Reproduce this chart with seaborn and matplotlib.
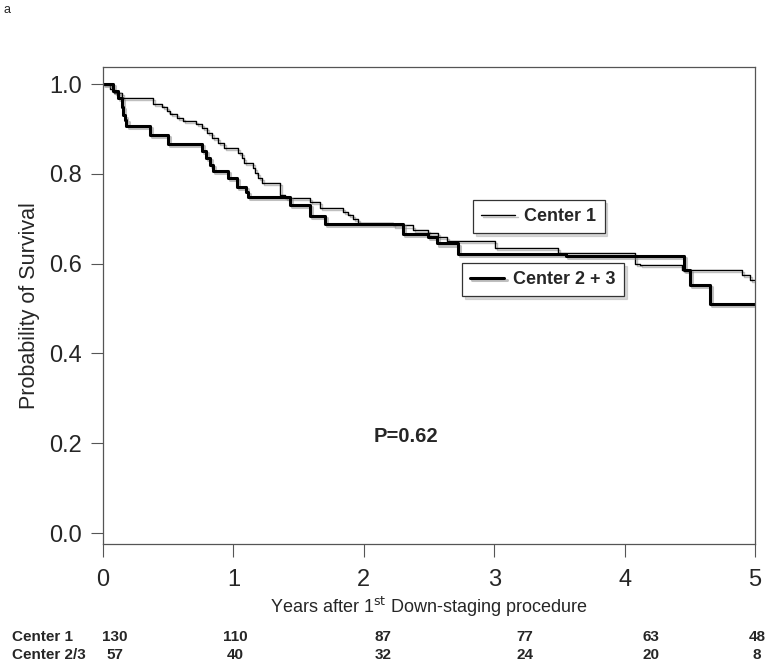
import matplotlib
matplotlib.use("Agg")
import matplotlib.pyplot as plt
import matplotlib.patheffects as pe
import seaborn as sns
import pandas as pd

# Kaplan-Meier steps (years, survival)
c1_years = [0, 0.054, 0.084, 0.143, 0.381, 0.45, 0.49, 0.51, 0.57, 0.61, 0.713, 0.757,
            0.795, 0.833, 0.884, 0.928, 1.038, 1.063, 1.081, 1.148, 1.166, 1.191, 1.217,
            1.357, 1.396, 1.587, 1.664, 1.843, 1.881, 1.92, 1.958, 2.226, 2.38, 2.495,
            2.57, 2.636, 3.006, 3.49, 4.08, 4.12, 4.44, 4.9, 4.96, 5.0]
c1_surv = [1.0, 0.99, 0.98, 0.969, 0.955, 0.948, 0.94, 0.933, 0.924, 0.918, 0.911, 0.902,
           0.891, 0.88, 0.869, 0.857, 0.846, 0.835, 0.824, 0.813, 0.802, 0.79, 0.779,
           0.753, 0.746, 0.738, 0.724, 0.716, 0.708, 0.70, 0.69, 0.685, 0.675, 0.668,
           0.66, 0.651, 0.634, 0.624, 0.60, 0.597, 0.586, 0.575, 0.563, 0.563]

c23_years = [0, 0.079, 0.118, 0.145, 0.155, 0.165, 0.18, 0.36, 0.50, 0.757, 0.79, 0.82,
             0.841, 0.961, 1.025, 1.097, 1.115, 1.434, 1.587, 1.70, 2.303, 2.495, 2.559,
             2.725, 3.55, 4.456, 4.50, 4.655, 5.0]
c23_surv = [1.0, 0.984, 0.969, 0.95, 0.93, 0.92, 0.906, 0.887, 0.867, 0.85, 0.835, 0.82,
            0.807, 0.79, 0.771, 0.76, 0.749, 0.73, 0.706, 0.688, 0.667, 0.66, 0.645,
            0.622, 0.617, 0.586, 0.552, 0.51, 0.51]

# numbers at risk
risk_labels = ["Center 1", "Center 2/3"]
risk_c1 = [130, 110, 87, 77, 63, 48]
risk_c23 = [57, 40, 32, 24, 20, 8]
risk_xpos = [115, 235, 383, 525, 651, 757]  # pixel columns of the table

p_text = "P=0.62"

sns.set_style("ticks")
plt.rcParams['font.family'] = ['Liberation Sans', 'DejaVu Sans']

fig = plt.figure(figsize=(7.68, 6.63), dpi=100)
W, H = 768, 663
ax = fig.add_axes([103 / W, 1 - 544 / H, (755 - 103) / W, (544 - 67) / H])

shadow = [pe.SimpleLineShadow(offset=(1.5, -1.5), shadow_color='0.5', alpha=0.5), pe.Normal()]

df1 = pd.DataFrame({"years": c1_years, "surv": c1_surv})
df2 = pd.DataFrame({"years": c23_years, "surv": c23_surv})
sns.lineplot(data=df1, x="years", y="surv", drawstyle="steps-post", color="black",
             linewidth=1.0, estimator=None, sort=False, ax=ax, path_effects=shadow)
sns.lineplot(data=df2, x="years", y="surv", drawstyle="steps-post", color="black",
             linewidth=2.2, estimator=None, sort=False, ax=ax, path_effects=shadow)
line1, line2 = ax.lines[0], ax.lines[1]

ax.set_xlim(0, 5)
ax.set_ylim(-0.0245, 1.038)
ax.set_xticks([0, 1, 2, 3, 4, 5])
ax.set_yticks([0.0, 0.2, 0.4, 0.6, 0.8, 1.0])
ax.set_yticklabels(["0.0", "0.2", "0.4", "0.6", "0.8", "1.0"])
ax.tick_params(axis='both', direction='out', length=9, width=0.8, color='#555555',
               labelsize=17, pad=6)
ax.tick_params(axis='x', pad=9)
for s in ax.spines.values():
    s.set_color('#555555')
    s.set_linewidth(0.9)

ax.set_xlabel("Years after 1$^{\\rm st}$ Down-staging procedure", fontsize=13, labelpad=3)
ax.set_ylabel("Probability of Survival", fontsize=15.5, labelpad=7)

ax.text(2.32, 0.214, p_text, fontsize=14.5, fontweight='bold', ha='center', va='center')

leg_kw = dict(frameon=True, fancybox=False, edgecolor='#333333', framealpha=1,
              prop={'weight': 'bold', 'size': 13}, handlelength=1.9, handletextpad=0.5,
              borderpad=0.45, borderaxespad=0,
              shadow={'ox': 2, 'oy': -2, 'color': '0.7'})
leg1 = ax.legend([line1], ["Center 1"], loc='upper left',
                 bbox_to_anchor=(473 / W, 1 - 200 / H), bbox_transform=fig.transFigure,
                 **leg_kw)
leg1.get_frame().set_linewidth(0.9)
ax.add_artist(leg1)
leg2 = ax.legend([line2], ["Center 2 + 3"], loc='upper left',
                 bbox_to_anchor=(462 / W, 1 - 263 / H), bbox_transform=fig.transFigure,
                 **leg_kw)
leg2.get_frame().set_linewidth(0.9)

# risk table
for row_y, label, vals in [(637, risk_labels[0], risk_c1), (655, risk_labels[1], risk_c23)]:
    fig.text(12 / W, 1 - row_y / H, label, fontsize=11, fontweight='bold',
             ha='left', va='center')
    for xp, v in zip(risk_xpos, vals):
        fig.text(xp / W, 1 - row_y / H, str(v), fontsize=11, fontweight='bold',
                 ha='center', va='center')

fig.text(3 / W, 1 - 10 / H, "a", fontsize=9, ha='left', va='center')

fig.savefig("out.png", dpi=100)
